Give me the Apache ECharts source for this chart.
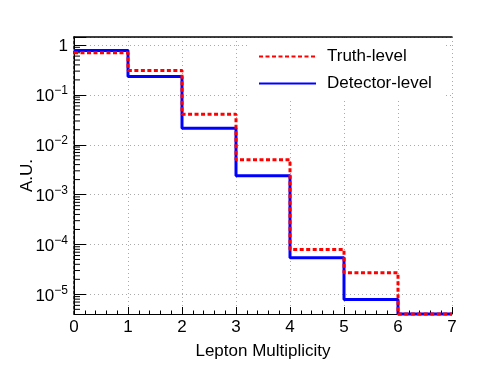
<!DOCTYPE html>
<html>
<head>
<meta charset="utf-8">
<script src="https://cdn.jsdelivr.net/npm/echarts@6/dist/echarts.min.js"></script>
<style>
  html, body { margin: 0; padding: 0; background: #fff; }
  #chart { width: 496px; height: 372px; }
</style>
</head>
<body>
<div id="chart"></div>
<script>
// bin edges of the multiplicity histogram
const binEdges = [0, 1, 2, 3, 4, 5, 6, 7]
// normalised contents per bin (last bin sits on the axis floor)
const truthLevel = [0.70, 0.31, 0.041, 0.0050, 7.9e-5, 2.7e-5, 4.03e-6]
const detectorLevel = [0.78, 0.235, 0.0215, 0.0024, 5.4e-5, 7.9e-6, 4.03e-6]
const yMin = 4.03e-6
const yMax = 1.45
// log minor tick positions (2..9 x 10^k)
const minorMantissa = [2, 3, 4, 5, 6, 7, 8, 9]
const decades = [-6, -5, -4, -3, -2, -1, 0]

function histPoints(vals) {
  const pts = vals.map((v, i) => [binEdges[i], v])
  pts.push([binEdges[binEdges.length - 1], vals[vals.length - 1]])
  return pts
}

const minorTicks = []
decades.forEach(d => {
  minorMantissa.forEach(m => {
    const v = m * Math.pow(10, d)
    if (v > yMin && v < yMax) minorTicks.push([0, v])
  })
})

var myChart = echarts.init(document.getElementById('chart'))
const option = {
  animation: false,
  textStyle: { fontFamily: 'Liberation Sans' },
  grid: { left: 74, right: 44, top: 37, bottom: 58, show: false },
  legend: {
    orient: 'vertical',
    left: 250,
    top: 40,
    padding: [8, 12, 6, 8],
    backgroundColor: '#fff',
    itemWidth: 57,
    itemHeight: 14,
    itemGap: 10,
    itemStyle: { opacity: 0 },
    textStyle: { fontSize: 17, color: '#000', fontFamily: 'Liberation Sans', padding: [0, 0, 0, 6] },
    data: ['Truth-level', 'Detector-level'],
    z: 10
  },
  xAxis: [
    {
      type: 'value',
      min: 0,
      max: 7,
      interval: 1,
      name: 'Lepton Multiplicity',
      nameLocation: 'middle',
      nameGap: 29,
      nameMoveOverlap: false,
      nameTextStyle: { fontSize: 17, color: '#000' },
      axisLine: { lineStyle: { color: '#000', width: 1 } },
      axisTick: { inside: true, length: 7, lineStyle: { color: '#000' } },
      minorTick: { show: true, splitNumber: 5, length: 3.5, lineStyle: { color: '#000' } },
      axisLabel: { fontSize: 17, color: '#000', margin: 5 },
      splitLine: { show: true, lineStyle: { color: '#aaa', type: [1, 3] } }
    },
    {
      type: 'value',
      position: 'top',
      min: 0,
      max: 7,
      axisLine: { show: true, lineStyle: { color: '#000', width: 1.5 } },
      axisTick: { show: false },
      axisLabel: { show: false },
      splitLine: { show: false }
    }
  ],
  yAxis: [
    {
      type: 'log',
      logBase: 10,
      min: yMin,
      max: yMax,
      name: 'A.U.',
      nameLocation: 'middle',
      nameGap: 38,
      nameMoveOverlap: false,
      nameTextStyle: { fontSize: 17, color: '#000' },
      axisLine: { show: true, lineStyle: { color: '#000', width: 1 } },
      axisTick: { inside: true, length: 12, lineStyle: { color: '#000' } },
      axisLabel: {
        margin: 6,
        color: '#000',
        formatter: function (v) {
          const e = Math.log10(v)
          const r = Math.round(e)
          if (Math.abs(e - r) > 1e-6) return ''
          if (r === 0) return '{b|1}'
          return '{b|10}{s|−' + (-r) + '}'
        },
        rich: {
          b: { fontSize: 17, color: '#000', fontFamily: 'Liberation Sans', verticalAlign: 'bottom', lineHeight: 20 },
          s: { fontSize: 12, color: '#000', fontFamily: 'Liberation Sans', verticalAlign: 'top', lineHeight: 20, padding: [0, 0, 6, 0] }
        }
      },
      splitLine: { show: true, lineStyle: { color: '#aaa', type: [1, 3] } }
    },
    {
      type: 'value',
      position: 'right',
      min: 0,
      max: 1,
      axisLine: { show: true, lineStyle: { color: '#000', width: 1.5, type: [3, 2] } },
      axisTick: { show: false },
      axisLabel: { show: false },
      splitLine: { show: false }
    }
  ],
  series: [
    {
      name: 'minorTicks',
      type: 'custom',
      silent: true,
      clip: false,
      data: minorTicks,
      renderItem: function (params, api) {
        const p = api.coord([0, api.value(1)])
        return {
          type: 'line',
          shape: { x1: p[0], y1: p[1], x2: p[0] + 6, y2: p[1] },
          style: { stroke: '#000', lineWidth: 1 }
        }
      }
    },
    {
      name: 'Detector-level',
      type: 'line',
      step: 'end',
      symbol: 'none',
      clip: false,
      lineStyle: { color: '#0000ff', width: 3 },
      itemStyle: { color: '#0000ff' },
      data: histPoints(detectorLevel)
    },
    {
      name: 'Truth-level',
      type: 'line',
      step: 'end',
      symbol: 'none',
      clip: false,
      lineStyle: { color: '#ff0000', width: 3, type: [4, 2.5] },
      itemStyle: { color: '#ff0000' },
      data: histPoints(truthLevel)
    }
  ]
}
myChart.setOption(option)
</script>
</body>
</html>
